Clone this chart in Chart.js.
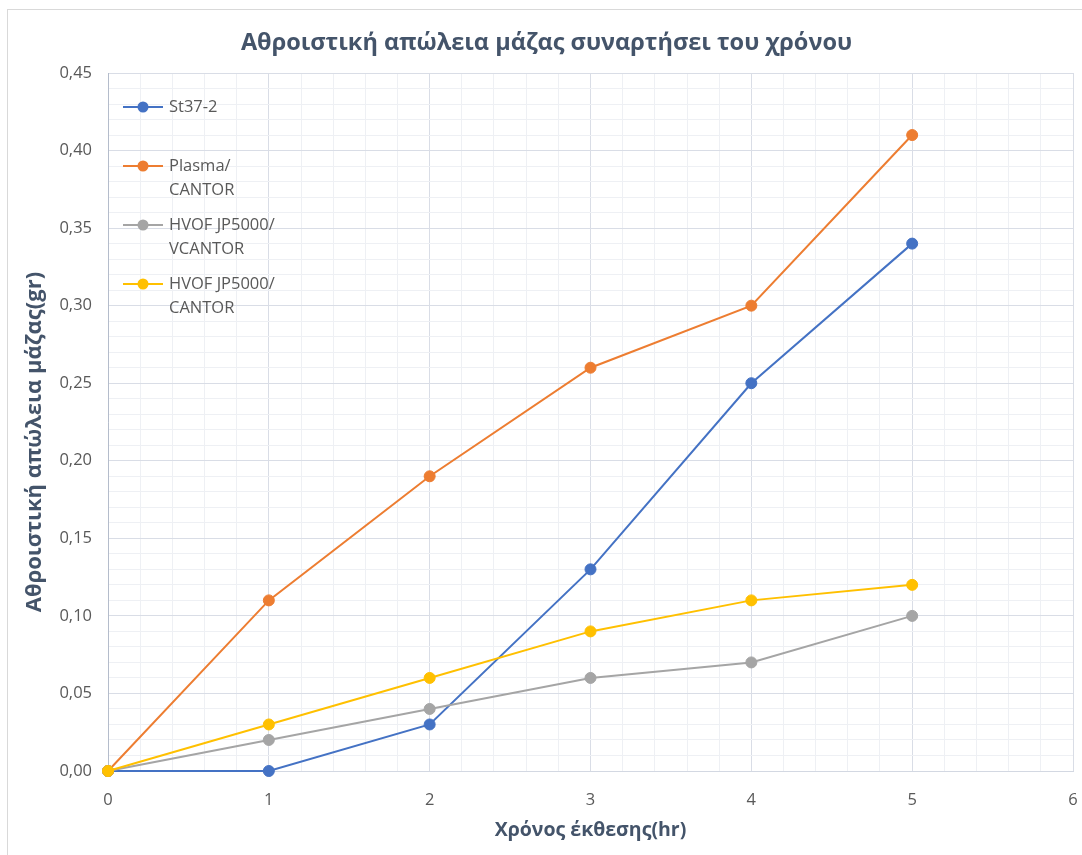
<!DOCTYPE html>
<html>
<head>
<meta charset="utf-8">
<title>Αθροιστική απώλεια μάζας</title>
<script src="https://cdn.jsdelivr.net/npm/chart.js@4.4.1/dist/chart.umd.min.js"></script>
<style>
  html, body { margin: 0; padding: 0; background: #ffffff; }
  #wrap { position: relative; width: 1082px; height: 855px; }
</style>
</head>
<body>
<div id="wrap"><canvas id="c" width="1082" height="855"></canvas></div>
<script>
// Exposure time (hr)
const hours = [0, 1, 2, 3, 4, 5];

// Cumulative mass loss (gr) per specimen
const st37 = [0, 0, 0.03, 0.13, 0.25, 0.34];
const plasmaCantor = [0, 0.11, 0.19, 0.26, 0.30, 0.41];
const hvofVcantor = [0, 0.02, 0.04, 0.06, 0.07, 0.10];
const hvofCantor = [0, 0.03, 0.06, 0.09, 0.11, 0.12];

const seriesNames = ['St37-2', 'Plasma/CANTOR', 'HVOF JP5000/VCANTOR', 'HVOF JP5000/CANTOR'];
const seriesColors = ['#4472C4', '#ED7D31', '#A5A5A5', '#FFC000'];

// Labelled (major) ticks
const xTickValues = [0, 1, 2, 3, 4, 5, 6];
const xTickLabels = ['0', '1', '2', '3', '4', '5', '6'];
const yTickValues = [0, 0.05, 0.10, 0.15, 0.20, 0.25, 0.30, 0.35, 0.40, 0.45];
const yTickLabels = ['0,00', '0,05', '0,10', '0,15', '0,20', '0,25', '0,30', '0,35', '0,40', '0,45'];

// Minor grid subdivisions between labelled ticks
const xMinorPerMajor = 5;
const yMinorPerMajor = 5;

const TEXT = '#595959';
const HEAD = '#44546A';
const GRID_MAJOR = '#d9dde6';
const GRID_MINOR = '#eef0f4';

Chart.defaults.font.family = '"Open Sans", sans-serif';

function majorIndex(values, v) {
  return values.findIndex(t => Math.abs(t - v) < 1e-9);
}

function buildTicks(values, perMajor) {
  const out = [];
  for (let i = 0; i < values.length - 1; i++) {
    const a = values[i], b = values[i + 1];
    for (let k = 0; k < perMajor; k++) {
      out.push({ value: a + (b - a) * k / perMajor });
    }
  }
  out.push({ value: values[values.length - 1] });
  return out;
}

const series = [st37, plasmaCantor, hvofVcantor, hvofCantor];

const datasets = series.map((vals, i) => ({
  label: seriesNames[i],
  data: hours.map((h, j) => ({ x: h, y: vals[j] })),
  borderColor: seriesColors[i],
  backgroundColor: seriesColors[i],
  pointBackgroundColor: seriesColors[i],
  pointBorderColor: seriesColors[i],
  borderWidth: 2,
  pointRadius: 5.5,
  pointHoverRadius: 5.5,
  pointBorderWidth: 1,
  tension: 0,
  clip: false,
  order: series.length - i
}));

// Light frame round the whole chart
const framePlugin = {
  id: 'frame',
  beforeDraw(chart) {
    const { ctx } = chart;
    ctx.save();
    ctx.fillStyle = '#ffffff';
    ctx.fillRect(0, 0, chart.width, chart.height);
    ctx.strokeStyle = '#d9d9d9';
    ctx.lineWidth = 1;
    ctx.strokeRect(7.5, 9.5, chart.width + 40, chart.height + 40);
    ctx.restore();
  }
};

// Legend placed inside the plot area, names wrapped after "/"
const insideLegend = {
  id: 'insideLegend',
  afterDatasetsDraw(chart) {
    const { ctx, chartArea } = chart;
    ctx.save();
    ctx.font = '16.5px "Open Sans", sans-serif';
    ctx.textBaseline = 'middle';
    ctx.textAlign = 'left';
    chart.data.datasets.forEach((ds, i) => {
      const x0 = chartArea.left + 15;
      const y0 = chartArea.top + 34 + i * 59;
      ctx.strokeStyle = ds.borderColor;
      ctx.lineWidth = 2;
      ctx.beginPath();
      ctx.moveTo(x0, y0);
      ctx.lineTo(x0 + 40, y0);
      ctx.stroke();
      ctx.fillStyle = ds.backgroundColor;
      ctx.beginPath();
      ctx.arc(x0 + 20, y0, 5.5, 0, Math.PI * 2);
      ctx.fill();
      ctx.fillStyle = TEXT;
      ds.label.split(/(?<=\/)/).forEach((line, k) => {
        ctx.fillText(line, x0 + 46, y0 + k * 24.5);
      });
    });
    ctx.restore();
  }
};

new Chart(document.getElementById('c'), {
  type: 'line',
  data: { datasets },
  plugins: [framePlugin, insideLegend],
  options: {
    responsive: false,
    animation: false,
    events: [],
    layout: { padding: { top: 10, left: 20, right: 9, bottom: 0 } },
    plugins: {
      legend: { display: false },
      tooltip: { enabled: false },
      title: {
        display: true,
        text: 'Αθροιστική απώλεια μάζας συναρτήσει του χρόνου',
        color: HEAD,
        font: { size: 23.5, weight: 'bold' },
        padding: { top: 19, bottom: 15.8 }
      }
    },
    scales: {
      x: {
        type: 'linear',
        min: xTickValues[0],
        max: xTickValues[xTickValues.length - 1],
        afterBuildTicks(scale) { scale.ticks = buildTicks(xTickValues, xMinorPerMajor); },
        afterFit(scale) { scale.height = 84; scale.paddingLeft = 0; scale.paddingRight = 0; },
        ticks: {
          autoSkip: false,
          maxRotation: 0,
          padding: 19,
          color: TEXT,
          font: { size: 16.5 },
          callback(v) {
            const i = majorIndex(xTickValues, v);
            return i >= 0 ? xTickLabels[i] : '';
          }
        },
        grid: {
          drawTicks: false,
          color(ctx) {
            return ctx.tick && majorIndex(xTickValues, ctx.tick.value) >= 0 ? GRID_MAJOR : GRID_MINOR;
          },
          lineWidth: 1
        },
        border: { color: '#d3d8e2', width: 1 },
        title: {
          display: true,
          text: 'Χρόνος έκθεσης(hr)',
          color: HEAD,
          font: { size: 19.5, weight: 'bold' },
          padding: { top: 0, bottom: 13.3 }
        }
      },
      y: {
        min: yTickValues[0],
        max: yTickValues[yTickValues.length - 1],
        afterBuildTicks(scale) { scale.ticks = buildTicks(yTickValues, yMinorPerMajor); },
        afterFit(scale) { scale.width = 88; scale.paddingTop = 0; scale.paddingBottom = 0; },
        ticks: {
          autoSkip: false,
          padding: 16,
          color: TEXT,
          font: { size: 16.5 },
          callback(v) {
            const i = majorIndex(yTickValues, v);
            return i >= 0 ? yTickLabels[i] : '';
          }
        },
        grid: {
          drawTicks: false,
          color(ctx) {
            return ctx.tick && majorIndex(yTickValues, ctx.tick.value) >= 0 ? GRID_MAJOR : GRID_MINOR;
          },
          lineWidth: 1
        },
        border: { color: '#b4bccb', width: 1 },
        title: {
          display: true,
          // trailing no-break spaces nudge the rotated title slightly below the plot's centre
          text: 'Αθροιστική απώλεια μάζας(gr)\u00A0\u00A0\u00A0\u00A0\u00A0\u00A0\u00A0',
          color: HEAD,
          font: { size: 22, weight: 'bold' },
          padding: { top: 2, bottom: 0 }
        }
      }
    }
  }
});
</script>
</body>
</html>
